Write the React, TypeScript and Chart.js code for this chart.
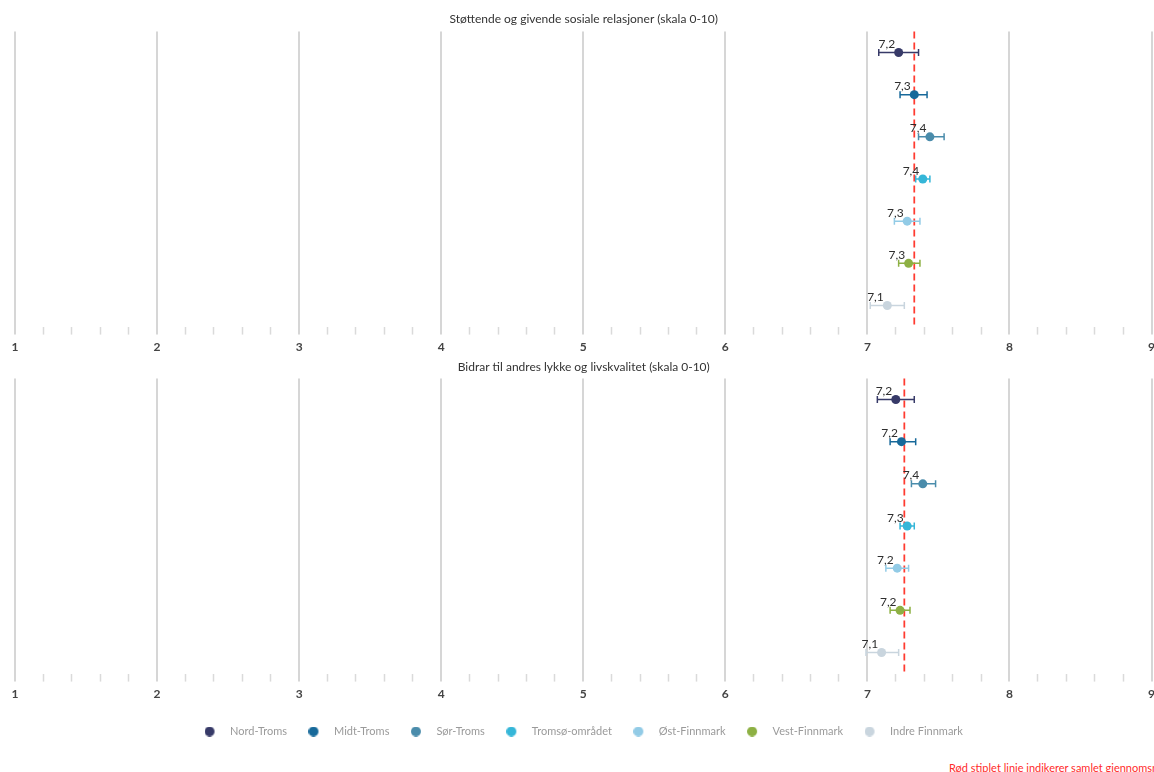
import React, { useEffect, useRef } from 'react';
import { Chart, registerables } from 'chart.js';

Chart.register(...registerables);

const regions = ['Nord-Troms', 'Midt-Troms', 'Sør-Troms', 'Tromsø-området', 'Øst-Finnmark', 'Vest-Finnmark', 'Indre Finnmark'];
const regionColors = ['#373a68', '#17699a', '#4a8cab', '#35b6d8', '#92cbe6', '#8db043', '#c9d5de'];

const titleTop = 'Støttende og givende sosiale relasjoner (skala 0-10)';
const meanTop = [7.22, 7.33, 7.44, 7.39, 7.28, 7.29, 7.14];
const lowTop = [7.08, 7.23, 7.36, 7.34, 7.19, 7.22, 7.02];
const highTop = [7.36, 7.42, 7.54, 7.44, 7.37, 7.37, 7.26];
const avgTop = 7.33;

const titleBottom = 'Bidrar til andres lykke og livskvalitet (skala 0-10)';
const meanBottom = [7.2, 7.24, 7.39, 7.28, 7.21, 7.23, 7.1];
const lowBottom = [7.07, 7.16, 7.31, 7.23, 7.13, 7.16, 6.99];
const highBottom = [7.33, 7.34, 7.48, 7.33, 7.29, 7.3, 7.22];
const avgBottom = 7.26;

const xMin = 1;
const xMax = 9;
const xStep = 0.2;
const footnote = 'Rød stiplet linje indikerer samlet gjennomsnitt';

const FONT = 'Lato';
const LEGEND_COLOR = '#9a9a9a';
const isMajor = (v: number) => Math.abs(v - Math.round(v)) < 1e-6;

type PanelProps = {
  title: string;
  means: number[];
  lows: number[];
  highs: number[];
  avg: number;
  showLegend: boolean;
  width: number;
  height: number;
  titlePadding: { top: number; bottom: number };
  axisExtra: number;
};

function PanelChart(props: PanelProps) {
  const ref = useRef<HTMLCanvasElement>(null);
  useEffect(() => {
    const { title, means, lows, highs, avg, showLegend, titlePadding, axisExtra } = props;
    const canvas = ref.current!;
    const legendDots = regionColors.map((c) => {
      const cv = document.createElement('canvas');
      cv.width = 20;
      cv.height = 10;
      const g = cv.getContext('2d')!;
      g.fillStyle = c;
      g.beginPath();
      g.arc(5, 5, 5, 0, Math.PI * 2);
      g.fill();
      return cv;
    });
    const datasets = regions.map((r, i) => ({
      label: r,
      data: [{ x: means[i], y: i }],
      backgroundColor: regionColors[i],
      borderColor: regionColors[i],
      borderWidth: 0,
      pointRadius: 4.5,
      pointHoverRadius: 4.5,
    }));
    const extras = {
      id: 'panelExtras',
      beforeDatasetsDraw(chart: any) {
        const { ctx, chartArea, scales } = chart;
        const xs = scales.x;
        const ys = scales.y;
        ctx.save();
        ctx.strokeStyle = '#ff3b30';
        ctx.lineWidth = 1.75;
        ctx.setLineDash([7, 4]);
        const ax = xs.getPixelForValue(avg);
        ctx.beginPath();
        ctx.moveTo(ax, chartArea.top);
        ctx.lineTo(ax, chartArea.bottom);
        ctx.stroke();
        ctx.setLineDash([]);
        regions.forEach((_, i) => {
          const y = ys.getPixelForValue(i);
          const x1 = xs.getPixelForValue(lows[i]);
          const x2 = xs.getPixelForValue(highs[i]);
          ctx.strokeStyle = regionColors[i];
          ctx.lineWidth = 1.5;
          ctx.beginPath();
          ctx.moveTo(x1, y);
          ctx.lineTo(x2, y);
          ctx.moveTo(x1, y - 3.5);
          ctx.lineTo(x1, y + 3.5);
          ctx.moveTo(x2, y - 3.5);
          ctx.lineTo(x2, y + 3.5);
          ctx.stroke();
        });
        ctx.restore();
      },
      afterDatasetsDraw(chart: any) {
        const { ctx, scales } = chart;
        ctx.save();
        ctx.font = `12px ${FONT}`;
        ctx.fillStyle = '#2e2e2e';
        ctx.textAlign = 'right';
        ctx.textBaseline = 'alphabetic';
        regions.forEach((_, i) => {
          const x = scales.x.getPixelForValue(means[i]);
          const y = scales.y.getPixelForValue(i);
          ctx.fillText(means[i].toFixed(1).replace('.', ','), x - 3.5, y - 4.5);
        });
        ctx.restore();
      },
    };
    const chart = new Chart(canvas, {
      type: 'scatter',
      data: { datasets },
      plugins: [extras],
      options: {
        responsive: false,
        animation: false,
        events: [],
        layout: { padding: { left: 15, right: 7.5, top: 0, bottom: 0 } },
        plugins: {
          title: {
            display: true,
            text: title,
            color: '#333333',
            font: { family: FONT, size: 12, weight: 'normal' },
            padding: titlePadding,
          },
          legend: {
            display: showLegend,
            position: 'bottom',
            labels: {
              usePointStyle: true,
              pointStyleWidth: 20,
              padding: 21.5,
              color: LEGEND_COLOR,
              font: { family: FONT, size: 11 },
              generateLabels: (ch: any) =>
                ch.data.datasets.map((ds: any, i: number) => ({
                  text: ds.label,
                  fillStyle: regionColors[i],
                  strokeStyle: regionColors[i],
                  fontColor: LEGEND_COLOR,
                  lineWidth: 0,
                  pointStyle: legendDots[i],
                  hidden: false,
                  datasetIndex: i,
                })),
            },
          },
          tooltip: { enabled: false },
        },
        scales: {
          x: {
            type: 'linear',
            min: xMin,
            max: xMax,
            afterFit: (s: any) => {
              s.height += axisExtra;
            },
            border: { display: false },
            grid: {
              color: (c: any) => (isMajor(c.tick.value) ? '#d6d6d6' : 'rgba(0,0,0,0)'),
              lineWidth: (c: any) => (isMajor(c.tick.value) ? 2 : 1),
              tickColor: (c: any) => (isMajor(c.tick.value) ? '#d6d6d6' : '#dadada'),
              tickWidth: (c: any) => (isMajor(c.tick.value) ? 2 : 1.5),
              tickLength: 8,
            },
            ticks: {
              stepSize: xStep,
              autoSkip: false,
              maxRotation: 0,
              padding: 5,
              color: '#444444',
              font: { family: FONT, size: 12, weight: 'bold' },
              callback: (v: any) => (isMajor(Number(v)) ? String(Math.round(Number(v))) : ''),
            },
          },
          y: { type: 'linear', min: -0.5, max: 6.5, reverse: true, display: false },
        },
      } as any,
    });
    return () => chart.destroy();
  }, []);
  return <canvas ref={ref} width={props.width} height={props.height} style={{ display: 'block', width: props.width, height: props.height }} />;
}

export default function App() {
  return (
    <div style={{ position: 'fixed', left: 0, top: 0, width: 1154, height: 772, overflow: 'hidden', background: '#ffffff' }}>
      <div style={{ position: 'absolute', left: 0, top: 0 }}>
        <PanelChart title={titleTop} means={meanTop} lows={lowTop} highs={highTop} avg={avgTop} showLegend={false}
          width={1160} height={359} titlePadding={{ top: 12, bottom: 5 }} axisExtra={0} />
      </div>
      <div style={{ position: 'absolute', left: 0, top: 359 }}>
        <PanelChart title={titleBottom} means={meanBottom} lows={lowBottom} highs={highBottom} avg={avgBottom} showLegend={true}
          width={1160} height={388} titlePadding={{ top: 1, bottom: 4 }} axisExtra={-1.5} />
      </div>
      <div style={{ position: 'absolute', left: 949, top: 761, font: `11px ${FONT}`, lineHeight: '14px', color: '#ff2b2b', whiteSpace: 'nowrap' }}>
        {footnote}
      </div>
    </div>
  );
}
